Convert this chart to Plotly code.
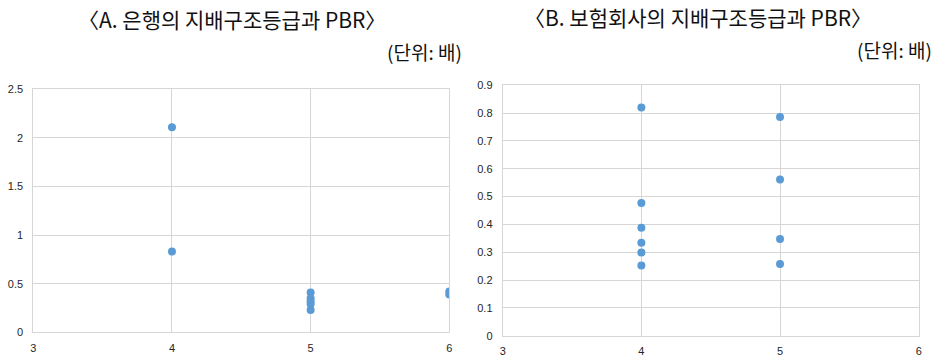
import plotly.graph_objects as go

# Panel A: banks
bank_grade = [4, 4, 5, 5, 5, 5, 5, 6, 6]
bank_pbr = [2.11, 0.83, 0.41, 0.35, 0.32, 0.29, 0.23, 0.42, 0.39]

# Panel B: insurers
ins_grade = [4, 4, 4, 4, 4, 4, 5, 5, 5, 5]
ins_pbr = [0.82, 0.477, 0.388, 0.334, 0.299, 0.252, 0.786, 0.561, 0.348, 0.258]

x_ticks = [3, 4, 5, 6]
a_yticks = [0, 0.5, 1, 1.5, 2, 2.5]
a_ylabels = ["0", "0.5", "1", "1.5", "2", "2.5"]
b_yticks = [0, 0.1, 0.2, 0.3, 0.4, 0.5, 0.6, 0.7, 0.8, 0.9]
b_ylabels = ["0", "0.1", "0.2", "0.3", "0.4", "0.5", "0.6", "0.7", "0.8", "0.9"]

title_a = "〈A. 은행의 지배구조등급과 PBR〉"
title_b = "〈B. 보험회사의 지배구조등급과 PBR〉"
unit = "(단위: 배)"

W, H = 939, 358
marker = dict(color="#5B9BD5", size=8)

fig = go.Figure()
fig.add_trace(go.Scatter(x=bank_grade, y=bank_pbr, mode="markers", marker=marker,
                         xaxis="x", yaxis="y", showlegend=False))
fig.add_trace(go.Scatter(x=ins_grade, y=ins_pbr, mode="markers", marker=marker,
                         xaxis="x2", yaxis="y2", showlegend=False))

grid = "#d6d6d6"
tickfont = dict(family="Liberation Sans, Arial, sans-serif", size=11, color="#262626")
common_x = dict(range=[3, 6], tickvals=x_ticks, showgrid=True, gridcolor=grid, gridwidth=1,
                showline=True, linecolor=grid, mirror=True, zeroline=False,
                tickfont=tickfont, ticks="", ticklen=0, automargin=False,
                ticklabelstandoff=5)
common_y = dict(showgrid=True, gridcolor=grid, gridwidth=1, showline=True, linecolor=grid,
                mirror=True, zeroline=False, tickfont=tickfont, ticks="", automargin=False,
                ticklabelstandoff=7)

fig.update_layout(
    width=W, height=H,
    margin=dict(l=0, r=0, t=0, b=0),
    paper_bgcolor="white", plot_bgcolor="white",
    xaxis=dict(domain=[33.3 / W, 449.3 / W], anchor="y", **common_x),
    yaxis=dict(domain=[(H - 332.3) / H, (H - 89.3) / H], anchor="x", range=[0, 2.5],
               tickvals=a_yticks, ticktext=a_ylabels, **common_y),
    xaxis2=dict(domain=[502.7 / W, 918.7 / W], anchor="y2", **common_x),
    yaxis2=dict(domain=[(H - 335.7) / H, (H - 85.3) / H], anchor="x2", range=[0, 0.9],
                tickvals=b_yticks, ticktext=b_ylabels, **common_y),
)

tfont = dict(family="Noto Sans CJK KR", size=21, color="#111111")
ufont = dict(family="Noto Sans CJK KR", size=19, color="#111111")
fig.add_annotation(text=title_a, xref="paper", yref="paper", x=232 / W, y=(H - 19) / H,
                   xanchor="center", yanchor="middle", showarrow=False, font=tfont)
fig.add_annotation(text=unit, xref="paper", yref="paper", x=464 / W, y=(H - 52) / H,
                   xanchor="right", yanchor="middle", showarrow=False, font=ufont)
fig.add_annotation(text=title_b, xref="paper", yref="paper", x=698 / W, y=(H - 17) / H,
                   xanchor="center", yanchor="middle", showarrow=False, font=tfont)
fig.add_annotation(text=unit, xref="paper", yref="paper", x=934 / W, y=(H - 49) / H,
                   xanchor="right", yanchor="middle", showarrow=False, font=ufont)

fig.write_html("out.html", config={"displayModeBar": False},
               post_script="document.body.style.margin='0';document.body.style.padding='0';")
